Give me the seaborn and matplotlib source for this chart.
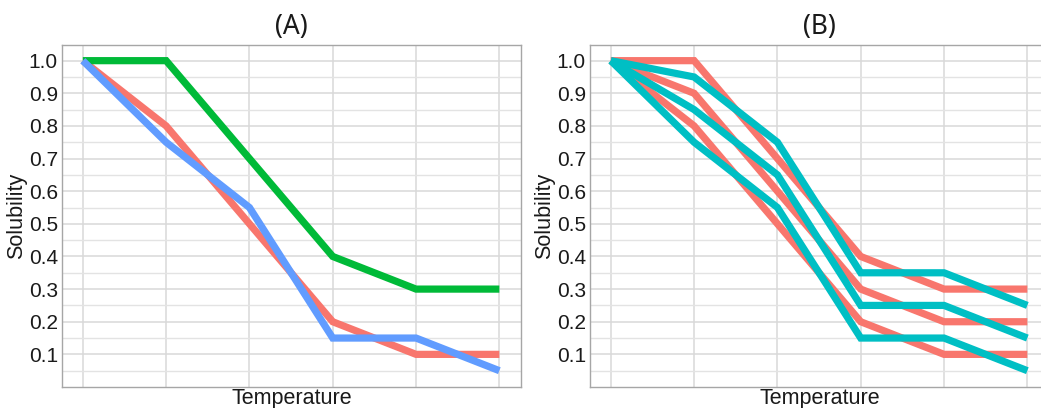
import numpy as np
import pandas as pd
import matplotlib
matplotlib.use("Agg")
import matplotlib.pyplot as plt
import seaborn as sns

# ---- data ----
temps = [0, 1, 2, 3, 4, 5]
yticks = [0.1, 0.2, 0.3, 0.4, 0.5, 0.6, 0.7, 0.8, 0.9, 1.0]

a_red = [1.0, 0.8, 0.5, 0.2, 0.1, 0.1]
a_green = [1.0, 1.0, 0.7, 0.4, 0.3, 0.3]
a_blue = [1.0, 0.75, 0.55, 0.15, 0.15, 0.05]

b_red1 = [1.0, 1.0, 0.7, 0.4, 0.3, 0.3]
b_red2 = [1.0, 0.9, 0.6, 0.3, 0.2, 0.2]
b_red3 = [1.0, 0.8, 0.5, 0.2, 0.1, 0.1]
b_teal1 = [1.0, 0.95, 0.75, 0.35, 0.35, 0.25]
b_teal2 = [1.0, 0.85, 0.65, 0.25, 0.25, 0.15]
b_teal3 = [1.0, 0.75, 0.55, 0.15, 0.15, 0.05]

titles = ["(A)", "(B)"]

sns.set_theme(style="white")
plt.rcParams["font.family"] = ["Liberation Sans", "DejaVu Sans"]
plt.rcParams["lines.solid_capstyle"] = "butt"
plt.rcParams["lines.solid_joinstyle"] = "miter"


def long_df(series):
    rows = []
    for name, grp, vals in series:
        for t, v in zip(temps, vals):
            rows.append({"line": name, "group": grp, "Temperature": t, "Solubility": v})
    return pd.DataFrame(rows)


df_a = long_df([
    ("red", "red", a_red),
    ("green", "green", a_green),
    ("blue", "blue", a_blue),
])
df_b = long_df([
    ("r1", "red", b_red1),
    ("r2", "red", b_red2),
    ("r3", "red", b_red3),
    ("t1", "teal", b_teal1),
    ("t2", "teal", b_teal2),
    ("t3", "teal", b_teal3),
])

pal = {"red": "#F8766D", "green": "#00BA38", "blue": "#619CFF", "teal": "#00BFC4"}

fig = plt.figure(figsize=(10.41, 4.08), dpi=100)
ax_a = fig.add_axes([62 / 1041, 21 / 408, 459 / 1041, 342 / 408])
ax_b = fig.add_axes([590 / 1041, 21 / 408, 459 / 1041, 342 / 408])

for ax, df, title in [(ax_a, df_a, titles[0]), (ax_b, df_b, titles[1])]:
    sns.lineplot(data=df, x="Temperature", y="Solubility", hue="group",
                 units="line", estimator=None, sort=False, palette=pal,
                 linewidth=5.2, legend=False, ax=ax)
    ax.set_xlim(-0.25, 5.26)
    ax.set_ylim(0.0, 1.048)
    ax.set_xticks(temps)
    ax.set_xticklabels([])
    ax.set_yticks(yticks)
    ax.set_yticklabels([f"{v:.1f}" for v in yticks])
    ax.set_yticks(np.arange(0.05, 1.05, 0.1), minor=True)
    ax.grid(True, which="major", color="#d9d9d9", linewidth=1.1)
    ax.grid(True, which="minor", axis="y", color="#e3e3e3", linewidth=1.0)
    ax.set_axisbelow(True)
    ax.tick_params(axis="y", which="major", length=0, pad=3, labelsize=15, labelcolor="#1a1a1a")
    ax.tick_params(axis="x", length=0)
    ax.tick_params(which="minor", length=0)
    for s in ax.spines.values():
        s.set_color("#a6a6a6")
        s.set_linewidth(1.0)
    ax.set_xlabel("Temperature", fontsize=15.5, labelpad=-3, color="#1a1a1a")
    ax.set_ylabel("Solubility", fontsize=15.5, labelpad=1, color="#1a1a1a")
    ax.set_title(title, fontsize=19, pad=8, color="#1a1a1a",
                 family=["Noto Sans", "DejaVu Sans"])

fig.savefig("out.png", dpi=100)
